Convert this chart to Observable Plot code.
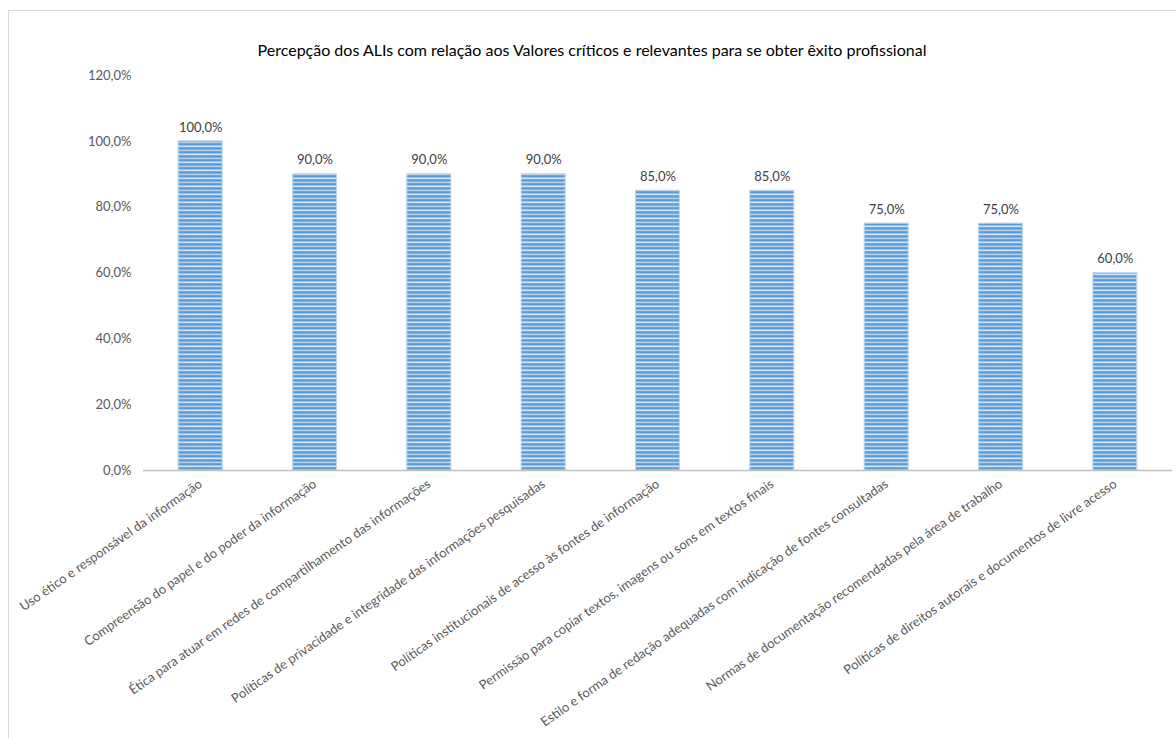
<!DOCTYPE html>
<html>
<head>
<meta charset="utf-8">
<script src="https://cdn.jsdelivr.net/npm/d3@7"></script>
<script src="https://cdn.jsdelivr.net/npm/@observablehq/plot@0.6"></script>
<style>
  html, body { margin: 0; padding: 0; background: #fff; overflow: hidden; }
  body { width: 1176px; height: 738px; position: relative; font-family: Lato, "Open Sans", sans-serif; }
  #frame { position: absolute; left: 8px; top: 10px; width: 1180px; height: 760px; border: 1px solid #d9d9d9; box-sizing: border-box; }
  #title { position: absolute; left: 8px; width: 1168px; top: 40px; text-align: center; font-size: 16px; color: #000; }
  #chart { position: absolute; left: 0; top: 60px; }
</style>
</head>
<body>
<div id="frame"></div>
<div id="title">Percepção dos ALIs com relação aos Valores críticos e relevantes para se obter êxito profissional</div>
<div id="chart"></div>
<script>
const categories = [
  "Uso ético e responsável da informação",
  "Compreensão do papel e do poder da informação",
  "Ética para atuar em redes de compartilhamento das informações",
  "Políticas de privacidade e integridade das informações pesquisadas",
  "Políticas institucionais de acesso às fontes de informação",
  "Permissão para copiar textos, imagens ou sons em textos finais",
  "Estilo e forma de redação adequadas com indicação de fontes consultadas",
  "Normas de documentação recomendadas pela área de trabalho",
  "Políticas de direitos autorais e documentos de livre acesso"
];
const values = [100, 90, 90, 90, 85, 85, 75, 75, 60];
const yTicks = [0, 20, 40, 60, 80, 100, 120];

const data = categories.map((c, i) => ({category: c, value: values[i]}));
const fmt = d => d.toFixed(1).replace(".", ",") + "%";

const svg = Plot.plot({
  width: 1176,
  height: 678,
  marginTop: 15,
  marginBottom: 268,
  marginLeft: 143,
  marginRight: 4,
  style: {fontFamily: "Lato, 'Open Sans', sans-serif", fontSize: "13px", color: "#595959", background: "transparent"},
  x: {domain: categories, paddingInner: 0.615, paddingOuter: 0.3075, round: false, label: null},
  y: {domain: [0, 120], ticks: yTicks, label: null},
  marks: [
    Plot.axisY({ticks: yTicks, tickSize: 0, tickPadding: 12, tickFormat: fmt, fontSize: 13, fill: "#595959"}),
    Plot.axisX({tickSize: 0, tickPadding: 12, tickRotate: -35, fontSize: 13, fill: "#595959"}),
    Plot.barY(data, {x: "category", y: "value", fill: "url(#stripes)", stroke: "#bcd6f0", strokeWidth: 1}),
    Plot.ruleY([0], {stroke: "#bfbfbf", strokeWidth: 1.5}),
    Plot.text(data, {x: "category", y: "value", text: d => fmt(d.value), dy: -14, fill: "#404040", fontSize: 13})
  ]
});

// striped pattern definition
const ns = "http://www.w3.org/2000/svg";
const defs = document.createElementNS(ns, "defs");
const pat = document.createElementNS(ns, "pattern");
pat.setAttribute("id", "stripes");
pat.setAttribute("patternUnits", "userSpaceOnUse");
pat.setAttribute("width", "10");
pat.setAttribute("height", "8");
const rows = [["#5b9bd5", 1], ["#80b1e0", 1], ["#b6d2ef", 1], ["#6aa4da", 1], ["#5b9bd5", 1], ["#9dc3e8", 1], ["#cde0f4", 1], ["#78acdd", 1]];
let yy = 0;
for (const [c, h] of rows) {
  const r = document.createElementNS(ns, "rect");
  r.setAttribute("x", 0); r.setAttribute("y", yy);
  r.setAttribute("width", 10); r.setAttribute("height", h);
  r.setAttribute("fill", c);
  pat.appendChild(r);
  yy += h;
}
defs.appendChild(pat);
svg.insertBefore(defs, svg.firstChild);

document.getElementById("chart").appendChild(svg);
</script>
</body>
</html>
